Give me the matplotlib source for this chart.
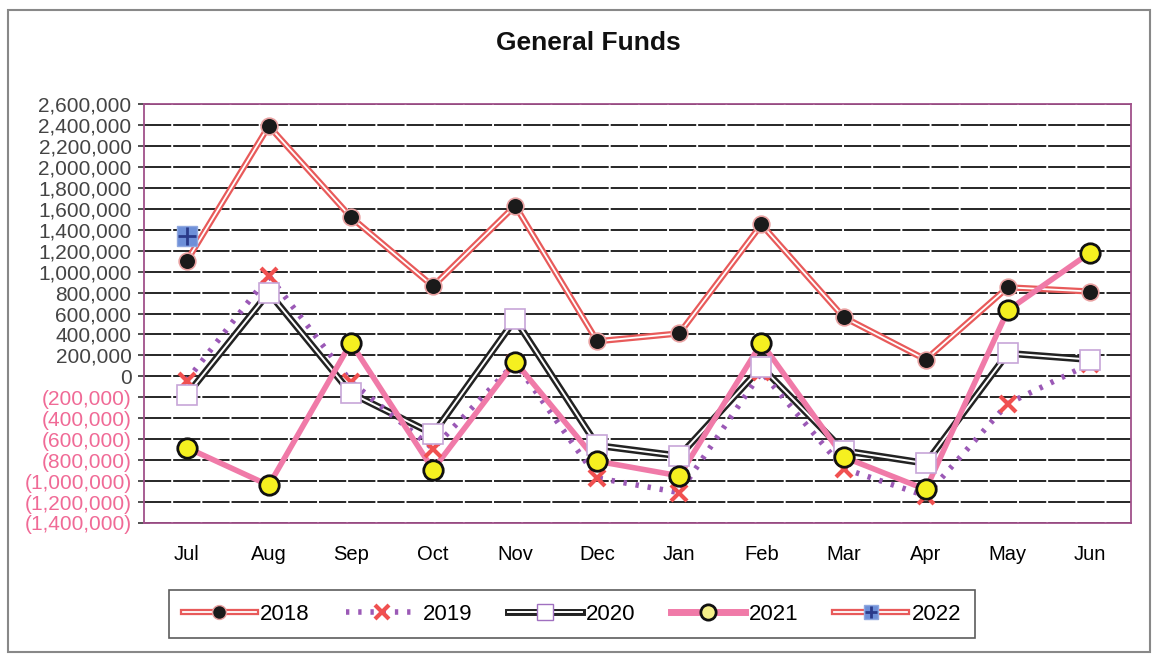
import numpy as np
import matplotlib.pyplot as plt
from matplotlib.lines import Line2D
from matplotlib.patches import Rectangle
from matplotlib.ticker import FuncFormatter, MultipleLocator

months = ['Jul', 'Aug', 'Sep', 'Oct', 'Nov', 'Dec', 'Jan', 'Feb', 'Mar', 'Apr', 'May', 'Jun']
y2018 = [1100000, 2390000, 1520000, 860000, 1630000, 335000, 410000, 1450000, 565000, 160000, 850000, 810000]
y2019 = [-40000, 960000, -50000, -690000, 130000, -970000, -1110000, 40000, -880000, -1140000, -260000, 120000]
y2020 = [-180000, 800000, -160000, -550000, 545000, -660000, -760000, 90000, -710000, -830000, 220000, 160000]
y2021 = [-680000, -1040000, 320000, -890000, 140000, -810000, -950000, 320000, -770000, -1080000, 630000, 1180000]
y2022 = [1340000]

plt.rcParams['font.family'] = ['Liberation Sans', 'DejaVu Sans']

fig = plt.figure(figsize=(11.61, 6.57), dpi=100)
ax = fig.add_axes([144/1161, 1-523/657, 987/1161, 419/657])
x = np.arange(len(months))

ax.set_ylim(-1400000, 2600000)
ax.set_xlim(-0.52, 11.5)
ax.yaxis.set_major_locator(MultipleLocator(200000))
ax.grid(axis='y', color='#262626', lw=1.4, ls=(0, (14, 1)))
ax.set_axisbelow(True)
for s in ax.spines.values():
    s.set_color('#a0508a')
    s.set_linewidth(1.3)

# 2018: red double line
ax.plot(x, y2018, color='#e85a5a', lw=4.5, zorder=3)
ax.plot(x, y2018, color='white', lw=1.3, zorder=3)
ax.plot(x, y2018, 'o', ms=12, mfc='#1a1a1a', mec='#e8a0a0', mew=1.2, zorder=6)

# 2019: purple dotted with red x
ax.plot(x, y2019, color='#9b59b6', lw=4, ls=(0, (0.6, 1.6)), zorder=4)
ax.plot(x, y2019, 'x', ms=11, mec='#f05050', mew=3, zorder=5)

# 2020: black double line with white squares
ax.plot(x, y2020, color='#222222', lw=5, zorder=3)
ax.plot(x, y2020, color='white', lw=1.4, zorder=3)
ax.plot(x, y2020, 's', ms=15, mfc='white', mec='#c7a6d8', mew=1.2, zorder=5)

# 2021: pink thick line with yellow circles
ax.plot(x, y2021, color='#f07aa8', lw=4, zorder=4)
ax.plot(x, y2021, 'o', ms=14, mfc='#f5f020', mec='#111111', mew=2, zorder=7)

# 2022: single point
ax.plot(x[:len(y2022)], y2022, 's', ms=14, mfc='#6d8fd8', mec='#8fa8e0', zorder=6)
ax.plot(x[:len(y2022)], y2022, '+', ms=13, mec='#2a3a8a', mew=2, zorder=7)

ax.set_xticks(x)
ax.set_xticklabels(months, fontsize=14.5)
ax.tick_params(axis='x', length=0, pad=16)
ax.tick_params(axis='y', length=8, direction='inout', color='#333333', width=1.2, pad=5)

def fmt(v, pos):
    if v < 0:
        return '({:,.0f})'.format(-v)
    return '{:,.0f}'.format(v)
ax.yaxis.set_major_formatter(FuncFormatter(fmt))
for lab, v in zip(ax.get_yticklabels(), ax.get_yticks()):
    lab.set_fontsize(15)
    lab.set_color('#f06a96' if v < 0 else '#444444')

fig.text(588/1161, 1-43/657, 'General Funds', ha='center', va='center',
         fontsize=19, fontweight='bold', color='#111111')

# legend handles
h2018 = (Line2D([], [], color='#e85a5a', lw=4.5), Line2D([], [], color='white', lw=1.3),
         Line2D([], [], ls='', marker='o', ms=10, mfc='#1a1a1a', mec='#e8a0a0'))
h2019 = (Line2D([], [], color='#9b59b6', lw=4, ls=(0, (0.6, 1.6))),
         Line2D([], [], ls='', marker='x', ms=10, mec='#f05050', mew=3))
h2020 = (Line2D([], [], color='#222222', lw=5), Line2D([], [], color='white', lw=1.4),
         Line2D([], [], ls='', marker='s', ms=12, mfc='white', mec='#a070c0'))
h2021 = (Line2D([], [], color='#f07aa8', lw=5),
         Line2D([], [], ls='', marker='o', ms=11, mfc='#f5f08a', mec='#111111', mew=2))
h2022 = (Line2D([], [], color='#e85a5a', lw=4.5), Line2D([], [], color='white', lw=1.3),
         Line2D([], [], ls='', marker='s', ms=10, mfc='#6d8fd8', mec='#8fa8e0'),
         Line2D([], [], ls='', marker='+', ms=9, mec='#2a3a8a', mew=2))
leg = fig.legend([h2018, h2019, h2020, h2021, h2022], ['2018', '2019', '2020', '2021', '2022'],
                 loc='center', bbox_to_anchor=(572/1161, 1-614/657), ncol=5, fontsize=16,
                 handlelength=3.3, columnspacing=1.6, handletextpad=0.2, frameon=True,
                 fancybox=False, edgecolor='#333333', borderpad=0.6)
leg.get_frame().set_linewidth(1.2)

# outer chart border
fig.patches.append(Rectangle((8/1161, 1-652/657), 1142/1161, 642/657, transform=fig.transFigure,
                             fill=False, edgecolor='#888888', lw=1.5))

fig.savefig('out.png', dpi=100)
